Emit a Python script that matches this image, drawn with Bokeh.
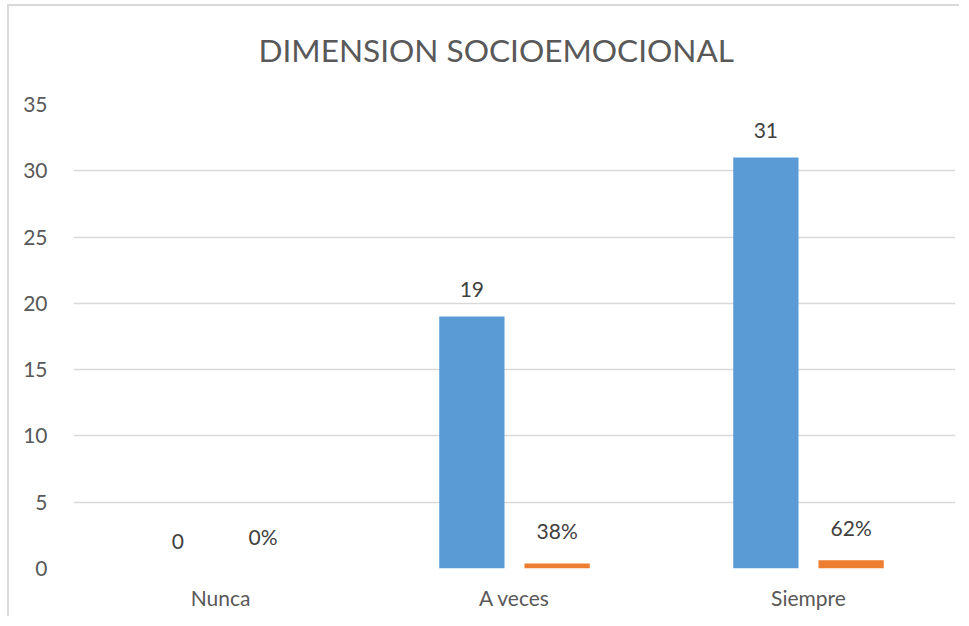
from bokeh.plotting import figure
from bokeh.models import ColumnDataSource, Range1d, Title
from bokeh.transform import dodge
from bokeh.core.properties import value
from bokeh.embed import file_html
from bokeh.resources import INLINE

categories = ["Nunca", "A veces", "Siempre"]
counts = [0, 19, 31]
percents = [0.0, 0.38, 0.62]
count_labels = ["0", "19", "31"]
pct_labels = ["0%", "38%", "62%"]
y_ticks = [0, 5, 10, 15, 20, 25, 30, 35]
title_text = "DIMENSION SOCIOEMOCIONAL"

FONT = "Lato"
src = ColumnDataSource(dict(cat=categories, counts=counts, percents=percents,
                            count_labels=count_labels, pct_labels=pct_labels))

p = figure(x_range=categories, y_range=Range1d(0, 35), width=952, height=612,
           title=None, output_backend="svg", toolbar_location=None,
           min_border_left=64, min_border_right=6, min_border_top=98, min_border_bottom=50,
           styles={"border-left": "2px solid #d9d9d9", "border-top": "2px solid #d9d9d9",
                   "margin-left": "7px", "margin-top": "4px"})

# spacer (closest to the frame), then the real title above it
p.add_layout(Title(text=" ", text_font_size="1px", standoff=33), "above")
p.add_layout(Title(text=title_text, align="left", offset=185, vertical_align="bottom",
                   standoff=0, text_font=FONT, text_font_size="31.6px",
                   text_font_style="normal", text_color="#595959"), "above")

off = 0.145
w = 0.222
p.vbar(x=dodge("cat", -off, range=p.x_range), top="counts", width=w, source=src,
       fill_color="#5B9BD5", line_color=None)
p.vbar(x=dodge("cat", off, range=p.x_range), top="percents", width=w, source=src,
       fill_color="#ED7D31", line_color=None)

p.text(x=dodge("cat", -off, range=p.x_range), y="counts", text="count_labels", source=src,
       text_align="center", text_baseline="bottom", y_offset=-20,
       text_font=value(FONT), text_font_size="21px", text_color="#404040")
p.text(x=dodge("cat", off, range=p.x_range), y="percents", text="pct_labels", source=src,
       text_align="center", text_baseline="bottom", y_offset=-20,
       text_font=value(FONT), text_font_size="21px", text_color="#404040")

p.yaxis.ticker = y_ticks
p.xgrid.grid_line_color = None
p.ygrid.grid_line_color = "#d9d9d9"
p.ygrid.grid_line_width = 1.5
p.outline_line_color = None
for ax in (p.xaxis, p.yaxis):
    ax.axis_line_color = None
    ax.major_tick_line_color = None
    ax.minor_tick_line_color = None
    ax.major_label_text_font = FONT
    ax.major_label_text_font_size = "21px"
    ax.major_label_text_color = "#595959"
p.yaxis.major_label_standoff = 20
p.xaxis.major_label_standoff = 10

open("out.html", "w").write(file_html(p, INLINE))
